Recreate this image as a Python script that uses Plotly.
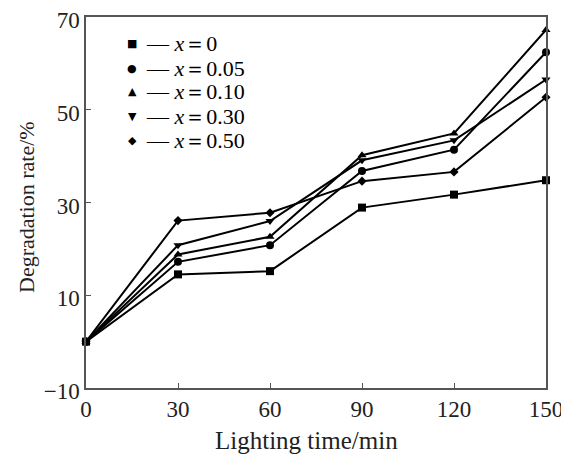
import plotly.graph_objects as go

# ---- data ----
time_min = [0, 30, 60, 90, 120, 150]
rate_x0 = [0, 14.5, 15.2, 28.9, 31.7, 34.8]
rate_x005 = [0, 17.2, 20.8, 36.8, 41.4, 62.4]
rate_x010 = [0, 18.8, 22.6, 40.2, 44.9, 67.2]
rate_x030 = [0, 20.8, 26.0, 39.1, 43.4, 56.5]
rate_x050 = [0, 26.1, 27.8, 34.6, 36.6, 52.7]

series_labels = ["0", "0.05", "0.10", "0.30", "0.50"]
series_values = [rate_x0, rate_x005, rate_x010, rate_x030, rate_x050]
symbols = ["square", "circle", "triangle-up", "triangle-down", "diamond"]
glyphs = ["■", "●", "▲", "▼", "◆"]
sizes = [8, 8, 8, 8, 7]

x_ticks = [0, 30, 60, 90, 120, 150]
y_ticks = [-10, 10, 30, 50, 70]
y_ticktext = ["−10", "10", "30", "50", "70"]

x_title = "Lighting time/min"
y_title = "Degradation rate/%"

FONT = "Times New Roman, Liberation Serif, Tinos, serif"
TXT = "#222222"

# page body has an 8px margin: figure occupies 8..569 x 8..454
OFF = 8
W, H = 569 - OFF, 454 - OFF
L, R, T, B = 86 - OFF, 569 - 546, 17 - OFF, 454 - 388

fig = go.Figure()
for lab, vals, sym, sz in zip(series_labels, series_values, symbols, sizes):
    fig.add_trace(go.Scatter(
        x=time_min, y=vals, mode="lines+markers", name="x=" + lab,
        line=dict(color="black", width=2),
        marker=dict(symbol=sym, size=sz, color="black"),
        cliponaxis=False, showlegend=False,
    ))

axis_common = dict(
    showline=True, linecolor="#555555", linewidth=1.5, mirror=True,
    ticks="inside", ticklen=5, tickwidth=1.2, tickcolor="#555555",
    showgrid=False, zeroline=False, automargin=False,
    ticklabeloverflow="allow",
    tickfont=dict(family=FONT, size=23, color=TXT),
)

fig.update_xaxes(range=[0, 150], tickvals=x_ticks, **axis_common)
fig.update_yaxes(range=[-10, 70], tickvals=y_ticks, ticktext=y_ticktext,
                 ticklabelshift=3, **axis_common)

pw = W - L - R
ph = H - T - B
def px_x(px):
    return (px - OFF - L) / pw
def px_y(py):
    return 1 - (py - OFF - T) / ph

# axis titles
fig.add_annotation(xref="paper", yref="paper", x=px_x(306), y=px_y(440),
                   text=x_title, showarrow=False, xanchor="center", yanchor="middle",
                   font=dict(family=FONT, size=25, color=TXT))
fig.add_annotation(xref="paper", yref="paper", x=px_x(26), y=px_y(207),
                   text=y_title, showarrow=False, textangle=-90,
                   xanchor="center", yanchor="middle",
                   font=dict(family=FONT, size=22, color=TXT))

# legend drawn as text (marker glyph, dash, label)
row_y = [43, 68, 92, 116, 140]
for g, lab, ry in zip(glyphs, series_labels, row_y):
    fig.add_annotation(xref="paper", yref="paper", x=px_x(132), y=px_y(ry),
                       text=g, showarrow=False, xanchor="center", yanchor="middle",
                       font=dict(family="DejaVu Sans", size=11, color="black"))
    fig.add_annotation(xref="paper", yref="paper", x=px_x(144), y=px_y(ry),
                       text="— <i>x</i>＝" + lab, showarrow=False,
                       xanchor="left", yanchor="middle",
                       font=dict(family=FONT, size=22, color="black"))

fig.update_layout(
    width=W, height=H,
    margin=dict(l=L, r=R, t=T, b=B),
    paper_bgcolor="white", plot_bgcolor="white",
    showlegend=False,
    font=dict(family=FONT),
)

fig.write_html("out.html")
